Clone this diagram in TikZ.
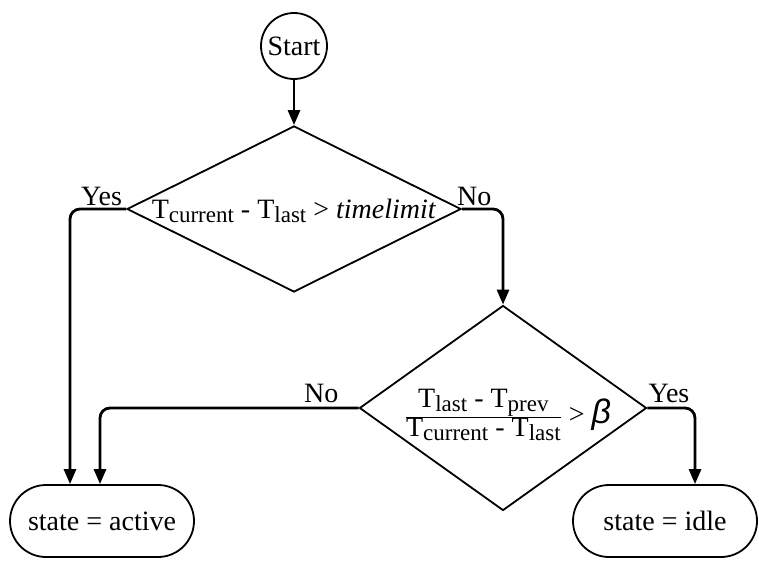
\documentclass[tikz,border=0pt]{standalone}
\usepackage{fontspec}
\setmainfont{Liberation Serif}
\newfontfamily\grk{Liberation Sans}
\usetikzlibrary{shapes.geometric}
\usetikzlibrary{arrows.meta}
\newcommand{\sbs}[1]{\raisebox{-0.35ex}{\fontsize{23}{23}\selectfont #1}}
\tikzset{fcp/.style={
  x=1pt,
  y=-1pt,
  font=\fontsize{28}{32}\selectfont
}}
\tikzset{fcn/.style={
  draw,
  line width=1.8pt,
  fill=white,
  inner sep=0pt,
}}
\tikzset{stn/.style={fcn,shape=circle,minimum size=66pt}}
\tikzset{dcn/.style={fcn,shape=diamond}}
\tikzset{trm/.style={
  fcn,
  shape=rectangle,
  rounded corners=36pt,
  minimum width=184pt,
  minimum height=72pt
}}
\tikzset{fln/.style={
  line width=2.8pt,
  rounded corners=10pt,
  -{Triangle[length=15pt,width=12pt]}
}}
\tikzset{lbl/.style={inner sep=0pt}}
\begin{document}
\begin{tikzpicture}[fcp]
  \useasboundingbox (0,0) rectangle (759,561);

    %% Nodes

    % Start and first test
    \node[stn] (start) at (294,46) {Start};
    \node[dcn,minimum width=334pt,minimum height=166pt] (tl) at (294,209) {};
    \node[lbl] (tltx) at (294,211)
      {T\sbs{current} - T\sbs{last} > \textit{timelimit}};

    % Second test
    \node[dcn,minimum width=287pt,minimum height=205pt] (rt) at (503,408) {};
    \node[lbl] (rttx) at (508,415)
      {$\frac{\mbox{T\sbs{last} - T\sbs{prev}}}{\mbox{T\sbs{current} - T\sbs{last}}}$
       > {\grk\fontsize{34}{34}\selectfont\itshape β}};

    % States
    \node[trm] (act) at (102,521) {state = active};
    \node[trm] (idle) at (665,521) {state = idle};

    %% Branch labels
    \node[lbl,anchor=base east] (ys1) at ([xshift=-4pt,yshift=4pt]tl.west) {Yes};
    \node[lbl,anchor=base west] (no1) at ([xshift=-5pt,yshift=4pt]tl.east) {No};
    \node[lbl,anchor=base east] (no2) at ([xshift=-20pt,yshift=6pt]rt.west) {No};
    \node[lbl,anchor=base west] (ys2) at ([xshift=1pt,yshift=6pt]rt.east) {Yes};

    %% Connectors
    \draw[fln] (start.south) -- (tl.north);
    \draw[fln] (tl.west) -| ([xshift=-32pt]act.north);
    \draw[fln] (tl.east) -| (rt.north);
    \draw[fln] (rt.west) -| ([xshift=-2pt]act.north);
    \draw[fln] (rt.east) -| ([xshift=30pt]idle.north);

  \end{tikzpicture}
\end{document}
